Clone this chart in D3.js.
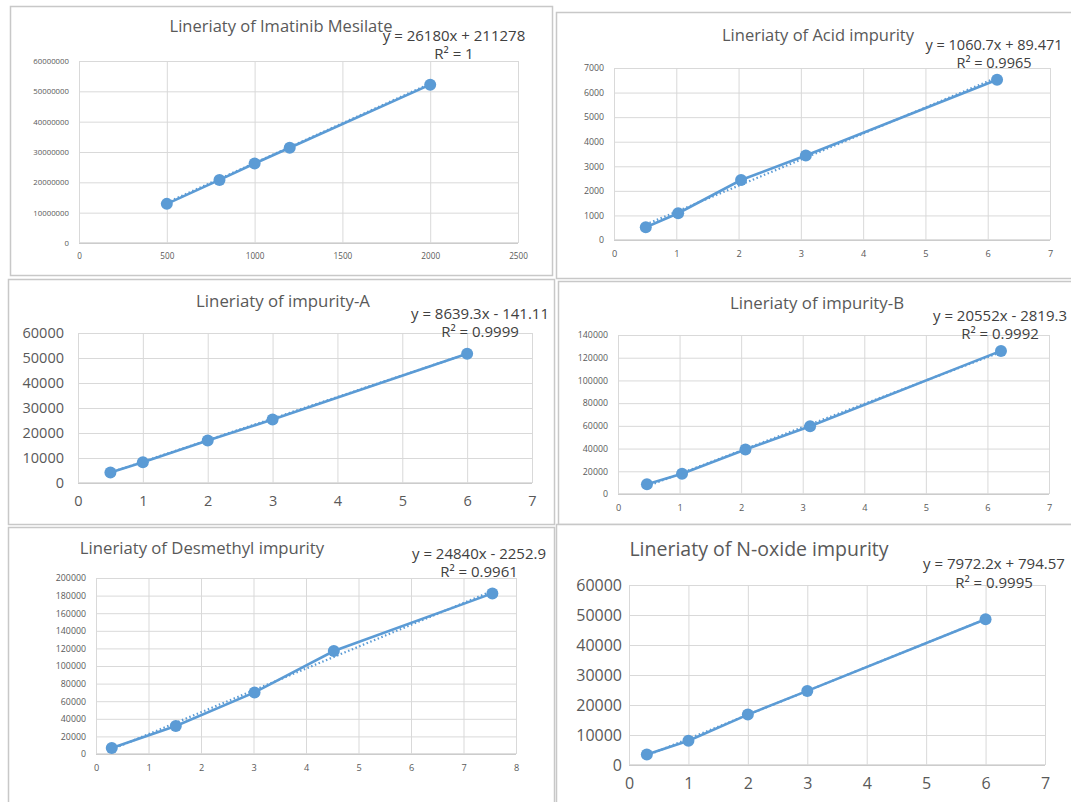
<!DOCTYPE html>
<html><head><meta charset="utf-8">
<script src="https://cdn.jsdelivr.net/npm/d3@7"></script>
<style>
body{margin:0;background:#fff;}
svg{display:block;font-family:"Open Sans",sans-serif;}
</style></head>
<body><svg id="c" width="1071" height="802"></svg>
<script>
// ---------- data ----------
const titles = ["Lineriaty of Imatinib Mesilate","Lineriaty of Acid impurity","Lineriaty of impurity-A","Lineriaty of impurity-B","Lineriaty of Desmethyl impurity","Lineriaty of N-oxide impurity"];
const imatinibX = [500, 800, 1000, 1200, 2000];
const imatinibY = [12900000, 20800000, 26200000, 31400000, 52200000];
const acidX = [0.51, 1.03, 2.04, 3.08, 6.15];
const acidY = [520, 1090, 2440, 3440, 6520];
const impAX = [0.5, 1, 2, 3, 6];
const impAY = [4200, 8300, 17000, 25400, 51700];
const impBX = [0.47, 1.04, 2.07, 3.12, 6.22];
const impBY = [8500, 17800, 39200, 59700, 126000];
const desX = [0.3, 1.52, 3.02, 4.53, 7.55];
const desY = [6800, 31800, 70000, 117000, 182500];
const noxX = [0.3, 1, 2, 3, 6];
const noxY = [3500, 8100, 16800, 24700, 48600];
const slopes = [26180, 1060.7, 8639.3, 20552, 24840, 7972.2];
const intercepts = [211278, 89.471, -141.11, -2819.3, -2252.9, 794.57];
const eqTexts = ["y = 26180x + 211278","y = 1060.7x + 89.471","y = 8639.3x - 141.11","y = 20552x - 2819.3","y = 24840x - 2252.9","y = 7972.2x + 794.57"];
const r2Texts = ["R\u00b2 = 1","R\u00b2 = 0.9965","R\u00b2 = 0.9999","R\u00b2 = 0.9992","R\u00b2 = 0.9961","R\u00b2 = 0.9995"];
const xTicks1 = [0, 500, 1000, 1500, 2000, 2500];
const yTicks1 = [0, 10000000, 20000000, 30000000, 40000000, 50000000, 60000000];
const xTicks7 = [0, 1, 2, 3, 4, 5, 6, 7];
const xTicks8 = [0, 1, 2, 3, 4, 5, 6, 7, 8];
const yTicksAcid = [0, 1000, 2000, 3000, 4000, 5000, 6000, 7000];
const yTicks60k = [0, 10000, 20000, 30000, 40000, 50000, 60000];
const yTicks140k = [0, 20000, 40000, 60000, 80000, 100000, 120000, 140000];
const yTicks200k = [0, 20000, 40000, 60000, 80000, 100000, 120000, 140000, 160000, 180000, 200000];

// ---------- layout ----------
const panels = [
 {xs:imatinibX, ys:imatinibY, xt:xTicks1, yt:yTicks1, frame:[10,6,542,269], plot:[79,61,518,243], tfs:16.5, tx:281, ty:28, tickFs:7.8, xTickFs:8.2, ypad:10, xpad:10, efs:15, ex:454, ey:37, ry:55, r:6},
 {xs:acidX, ys:acidY, xt:xTicks7, yt:yTicksAcid, frame:[556,12,520,266], plot:[614,68,1050,240], tfs:16.5, tx:818, ty:37, tickFs:8.8, xTickFs:9.2, ypad:10, xpad:10, efs:14.5, ex:994, ey:46, ry:64, r:6},
 {xs:impAX, ys:impAY, xt:xTicks7, yt:yTicks60k, frame:[8,279,546,245], plot:[78,333,532,483], tfs:16.8, tx:283, ty:302, tickFs:14.5, xTickFs:14.5, ypad:14, xpad:13, efs:15, ex:480, ey:315, ry:333, r:6},
 {xs:impBX, ys:impBY, xt:xTicks7, yt:yTicks140k, frame:[558,281,518,243], plot:[618,335,1049,494], tfs:16.8, tx:817, ty:304, tickFs:8.8, xTickFs:9.2, ypad:10, xpad:10, efs:15, ex:1000, ey:317, ry:335, r:6},
 {xs:desX, ys:desY, xt:xTicks8, yt:yTicks200k, frame:[8,527,546,280], plot:[96,578,516,754], tfs:16.7, tx:202, ty:550, tickFs:8.8, xTickFs:9.2, ypad:10, xpad:10, efs:15, ex:479, ey:555, ry:573, r:6},
 {xs:noxX, ys:noxY, xt:xTicks7, yt:yTicks60k, frame:[556,524,520,283], plot:[629,585,1045,765], tfs:19.5, tx:759, ty:551, tickFs:16, xTickFs:16, ypad:7, xpad:13, efs:15, ex:994, ey:565, ry:584, r:6}
];

const svg = d3.select("#c");
const blue = "#5b9bd5";

panels.forEach((p, i) => {
  const g = svg.append("g");
  g.append("rect").attr("x", p.frame[0]+0.5).attr("y", p.frame[1]+0.5)
    .attr("width", p.frame[2]).attr("height", p.frame[3])
    .attr("fill", "#fff").attr("stroke", "#c8c8c8").attr("stroke-width", 1.5);

  const [x0, y0, x1, y1] = p.plot;
  const xs = d3.scaleLinear().domain(d3.extent(p.xt)).range([x0, x1]);
  const ys = d3.scaleLinear().domain(d3.extent(p.yt)).range([y1, y0]);

  // y grid + labels
  const ya = g.append("g").attr("transform", `translate(${x0},0)`)
    .call(d3.axisLeft(ys).tickValues(p.yt).tickSize(-(x1 - x0)).tickPadding(p.ypad).tickFormat(d3.format("d")));
  ya.select(".domain").remove();
  ya.selectAll("line").attr("stroke", "#d9d9d9").attr("stroke-width", 1);
  ya.selectAll("text").attr("fill", "#595959").style("font-size", p.tickFs + "px").style("font-family", "Open Sans");

  // x grid + labels
  const xa = g.append("g").attr("transform", `translate(0,${y1})`)
    .call(d3.axisBottom(xs).tickValues(p.xt).tickSize(-(y1 - y0)).tickPadding(p.xpad).tickFormat(d3.format("d")));
  xa.select(".domain").attr("stroke", "#bfbfbf").attr("d", `M${x0},0H${x1}`);
  xa.selectAll("line").attr("stroke", "#d9d9d9").attr("stroke-width", 1);
  xa.selectAll("text").attr("fill", "#595959").style("font-size", p.xTickFs + "px").style("font-family", "Open Sans");

  // trendline (dotted)
  const ext = d3.extent(p.xs);
  const tl = ext.map(x => [x, slopes[i] * x + intercepts[i]]);
  g.append("path").datum(tl)
    .attr("d", d3.line().x(d => xs(d[0])).y(d => ys(d[1])))
    .attr("fill", "none").attr("stroke", blue).attr("stroke-width", 2.2)
    .attr("stroke-dasharray", "1.5,2.5");

  // data line
  const pts = p.xs.map((x, k) => [x, p.ys[k]]);
  g.append("path").datum(pts)
    .attr("d", d3.line().x(d => xs(d[0])).y(d => ys(d[1])))
    .attr("fill", "none").attr("stroke", blue).attr("stroke-width", 2.6);
  g.selectAll("circle.m").data(pts).join("circle")
    .attr("cx", d => xs(d[0])).attr("cy", d => ys(d[1])).attr("r", p.r).attr("fill", blue);

  // title
  g.append("text").attr("x", p.tx).attr("y", p.ty).attr("text-anchor", "middle")
    .attr("dominant-baseline", "middle").attr("fill", "#595959")
    .style("font-size", p.tfs + "px").text(titles[i]);
  // equation
  g.append("text").attr("x", p.ex).attr("y", p.ey).attr("text-anchor", "middle")
    .attr("dominant-baseline", "middle").attr("fill", "#404040")
    .style("font-size", p.efs + "px").text(eqTexts[i]);
  g.append("text").attr("x", p.ex).attr("y", p.ry).attr("text-anchor", "middle")
    .attr("dominant-baseline", "middle").attr("fill", "#404040")
    .style("font-size", p.efs + "px").text(r2Texts[i]);
});
</script></body></html>
